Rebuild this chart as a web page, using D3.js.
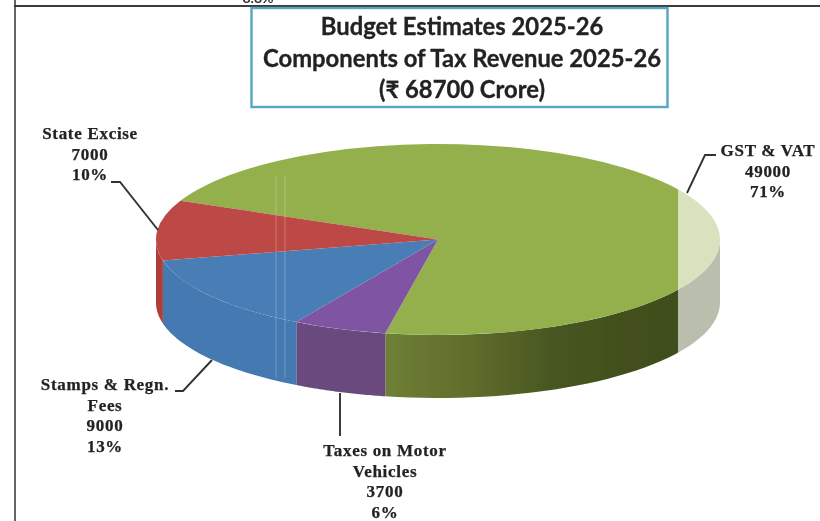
<!DOCTYPE html>
<html><head><meta charset="utf-8">
<script src="https://cdnjs.cloudflare.com/ajax/libs/d3/7.8.5/d3.min.js"></script>
<style>html,body{margin:0;padding:0;background:#fff}svg{display:block}</style>
</head><body><svg id="c" width="820" height="521"></svg>
<script>
const categories = ["GST & VAT","Taxes on Motor Vehicles","Stamps & Regn. Fees","State Excise"];
const values = [49000,3700,9000,7000];
const percents = ["71%","6%","13%","10%"];
const titleLines = ["Budget Estimates 2025-26","Components of Tax Revenue 2025-26","(₹ 68700 Crore)"];
const topColors = ["#93b04e","#7f55a3","#4a7db6","#bd4a47"];
const sideColors = ["url(#greenSide)","#69497e","#4479b1","#b03c38"];

const svg = d3.select("#c");
const W=820,H=521, cx=438, cy=239.5, rx=282, ry=95.5, depth=63;
const startDeg=294;
const defs = svg.append("defs");
defs.append("filter").attr("id","soft").attr("x","-5%").attr("y","-5%").attr("width","110%").attr("height","110%")
  .append("feGaussianBlur").attr("stdDeviation",0.6);
const grad = defs.append("linearGradient").attr("id","greenSide")
  .attr("gradientUnits","userSpaceOnUse").attr("x1",385).attr("x2",680).attr("y1",0).attr("y2",0);
[[0,"#6f8035"],[0.3,"#5e6c2b"],[0.6,"#465420"],[1,"#3f4d1c"]].forEach(s=>grad.append("stop").attr("offset",s[0]).attr("stop-color",s[1]));

const pie = d3.pie().sort(null).value(d=>d)
  .startAngle(startDeg*Math.PI/180).endAngle((startDeg+360)*Math.PI/180);
const arcs = pie(values);
const root = svg.append("g").attr("filter","url(#soft)");

root.append("line").attr("x1",14).attr("x2",W+10).attr("y1",6).attr("y2",6).attr("stroke","#3a3a3a").attr("stroke-width",1.8);
root.append("line").attr("x1",15).attr("x2",15).attr("y1",0).attr("y2",H+10).attr("stroke","#333").attr("stroke-width",1.5);
root.append("text").attr("x",258).attr("y",3).attr("text-anchor","middle")
  .attr("font-family","Lato").attr("font-weight",700).attr("font-size",14).attr("fill","#333").text("8.8%");

const rim = a=>[cx+rx*Math.sin(a), cy-ry*Math.cos(a)];
const wall = (a0,a1)=>{
  const pts=d3.range(0,41).map(i=>a0+(a1-a0)*i/40).map(rim);
  const bottom=pts.slice().reverse().map(p=>[p[0],p[1]+depth]);
  return d3.line()(pts.concat(bottom))+"Z";
};
const walls=[];
arcs.forEach((d,i)=>{
  for(const k of [0,1]){
    const lo=Math.max(d.startAngle,Math.PI/2+k*2*Math.PI), hi=Math.min(d.endAngle,3*Math.PI/2+k*2*Math.PI);
    if(hi>lo) walls.push({i,lo,hi});
  }
});
root.selectAll("path.wall").data(walls).join("path").attr("class","wall")
  .attr("d",d=>wall(d.lo,d.hi)).attr("fill",d=>sideColors[d.i]);

const arc = d3.arc().innerRadius(0).outerRadius(rx);
root.append("g").attr("transform",`translate(${cx},${cy}) scale(1,${ry/rx})`)
  .selectAll("path").data(arcs).join("path")
  .attr("d",arc).attr("fill",(d,i)=>topColors[i]);

root.append("rect").attr("x",678).attr("y",150).attr("width",60).attr("height",240).attr("fill","#fff").attr("opacity",0.64);
root.selectAll("line.scan").data([276,285]).join("line").attr("class","scan")
  .attr("x1",d=>d).attr("x2",d=>d).attr("y1",176).attr("y2",378)
  .attr("stroke","#fff").attr("stroke-opacity",0.12).attr("stroke-width",2);

root.append("rect").attr("x",251.5).attr("y",8).attr("width",416).attr("height",99).attr("fill","#fff").attr("stroke","#56a6c0").attr("stroke-width",2.4);
root.append("g").selectAll("text").data(titleLines).join("text")
  .attr("x",462).attr("y",(d,i)=>35+i*31.5).attr("text-anchor","middle")
  .attr("font-family","Lato, 'Noto Sans'").attr("font-weight",700).attr("font-size",23.8)
  .attr("fill","#222").attr("stroke","#222").attr("stroke-width",0.3).text(d=>d);

const labels=[
  {lines:["GST & VAT","49000",percents[0]],x:768,y:156},
  {lines:["State Excise","7000",percents[3]],x:90,y:139},
  {lines:["Stamps & Regn.","Fees","9000",percents[2]],x:105,y:390},
  {lines:["Taxes on Motor","Vehicles","3700",percents[1]],x:385,y:456}
];
labels.forEach(l=>{
  root.append("g").selectAll("text").data(l.lines).join("text")
    .attr("x",l.x).attr("y",(d,i)=>l.y+i*20.6).attr("text-anchor","middle")
    .attr("font-family","'Liberation Serif'").attr("font-weight",700).attr("font-size",17)
    .attr("letter-spacing",0.7).attr("fill","#222").attr("stroke","#222").attr("stroke-width",0.25).text(d=>d);
});
const leaders=[
  [[716,155],[705,155],[687,193]],
  [[111,182],[120,182],[158,230]],
  [[175,391],[183,391],[212,360]],
  [[340,393],[340,436]]
];
root.selectAll("path.lead").data(leaders).join("path").attr("class","lead")
  .attr("d",d3.line()).attr("fill","none").attr("stroke","#333").attr("stroke-width",1.9);
</script></body></html>
